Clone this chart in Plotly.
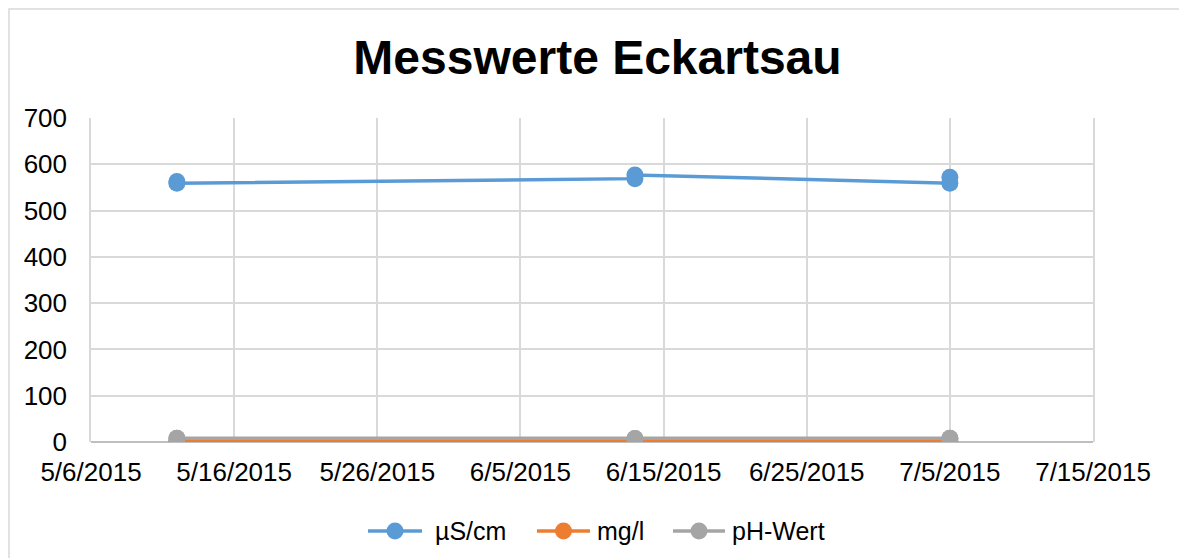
import plotly.graph_objects as go

dates = ["2015-05-12", "2015-05-12", "2015-06-13", "2015-06-13", "2015-07-05", "2015-07-05"]
us_cm = [563, 559, 569, 577, 559, 572]
mg_l = [0.5, 0.5, 0.5, 0.5, 0.5, 0.5]
ph_wert = [7.9, 7.9, 7.8, 7.8, 7.9, 7.9]

series = [
    ("µS/cm", us_cm, "#5B9BD5"),
    ("mg/l", mg_l, "#ED7D31"),
    ("pH-Wert", ph_wert, "#A5A5A5"),
]

OFF = 8  # page body margin
W, H = 1187 - OFF, 558 - OFF
# target page coordinates of the plot area
PL, PR, PT, PB = 91, 1093, 118, 442
L, R, T, B = PL - OFF, PR - OFF, PT - OFF, PB - OFF
pw, ph = R - L, B - T


def px(x):
    return (x - PL) / pw


def py(y):
    return (PB - y) / ph


fig = go.Figure()
for name, vals, col in series:
    fig.add_trace(go.Scatter(
        x=dates, y=vals, name=name, mode="lines+markers",
        line=dict(color=col, width=3.5),
        marker=dict(color=col, size=17),
        showlegend=False,
    ))

shapes = [dict(
    type="rect", xref="paper", yref="paper",
    x0=px(9), x1=px(1181), y0=py(575), y1=py(9),
    line=dict(color="#D9D9D9", width=1.5), fillcolor="rgba(0,0,0,0)", layer="below",
)]
annotations = []

# custom legend (line + marker + label), positioned in page pixels
legend_items = [(368, 422, 433), (537, 590, 595), (673, 725, 730)]
ly = 531
for (name, _, col), (x0, x1, tx) in zip(series, legend_items):
    shapes.append(dict(type="line", xref="paper", yref="paper",
                       x0=px(x0), x1=px(x1), y0=py(ly), y1=py(ly),
                       line=dict(color=col, width=3.5)))
    cx = (x0 + x1) / 2
    r = 8.5
    shapes.append(dict(type="circle", xref="paper", yref="paper",
                       x0=px(cx - r), x1=px(cx + r), y0=py(ly + r), y1=py(ly - r),
                       line=dict(color=col, width=0), fillcolor=col))
    annotations.append(dict(text=name, xref="paper", yref="paper",
                            x=px(tx), y=py(ly), xanchor="left", yanchor="middle",
                            showarrow=False, font=dict(size=25, color="#000000")))

fig.update_layout(
    width=W, height=H,
    margin=dict(l=L, r=W - R, t=T, b=H - B),
    paper_bgcolor="white", plot_bgcolor="white",
    font=dict(family="Liberation Sans, Arial, sans-serif", size=26, color="#000000"),
    title=dict(text="<b>Messwerte Eckartsau</b>", x=0.5, xanchor="center",
               y=1 - (57 - OFF) / H, yanchor="middle", font=dict(size=48, color="#000000")),
    showlegend=False,
    xaxis=dict(
        type="date", range=["2015-05-06", "2015-07-15"],
        tick0="2015-05-06", dtick=864000000, tickformat="%-m/%-d/%Y",
        showgrid=True, gridcolor="#D9D9D9", gridwidth=1.5,
        zeroline=False, showline=False, ticks="",
        ticklabelstandoff=12,
        tickfont=dict(size=26),
    ),
    yaxis=dict(
        range=[0, 700], dtick=100, showgrid=True, gridcolor="#D9D9D9", gridwidth=1.5,
        zeroline=True, zerolinecolor="#BFBFBF", zerolinewidth=1.5,
        showline=True, mirror=True, linecolor="#D9D9D9", linewidth=1.5,
        ticks="", ticklabelstandoff=17, tickfont=dict(size=26),
    ),
    shapes=shapes,
    annotations=annotations,
)

fig.write_html("out.html")
